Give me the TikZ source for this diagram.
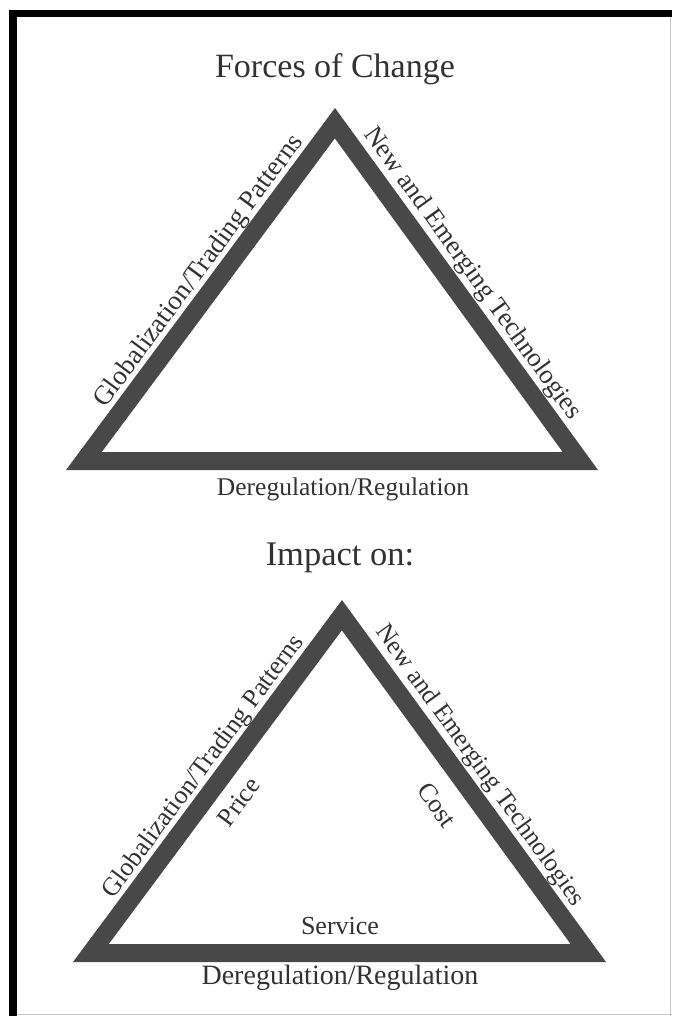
\documentclass[tikz,border=0pt]{standalone}
\usepackage{fontspec}
\setmainfont{Liberation Serif}
\usetikzlibrary{calc}
\definecolor{bandgray}{RGB}{72,72,72}
\definecolor{ink}{RGB}{50,50,50}
\begin{document}
\begin{tikzpicture}[x=1pt,y=-1pt,
  lbl/.style={text=ink, inner sep=0pt, anchor=base},
  bandstyle/.style={draw=bandgray, line width=36pt, line join=miter, miter limit=20},
  fs/.style={font=\fontsize{#1}{#1}\selectfont}]
\useasboundingbox (0,0) rectangle (672,1016);
\fill[white] (0,0) rectangle (672,1016);
% frame
\fill[black] (9,10) rectangle (672,17);
\fill[black] (9,10) rectangle (17,1016);
\draw[black!22, line width=0.8pt] (670.5,17) -- (670.5,1016);
\draw[black!22, line width=0.8pt] (17,1014.5) -- (672,1014.5);
% ---------- top triangle ----------
\coordinate (tA) at (335,108);
\coordinate (tB) at (66,470);
\coordinate (tC) at (598,470);
\begin{scope}
  \clip (tA) -- (tB) -- (tC) -- cycle;
  \draw[bandstyle] (tA) -- (tB) -- (tC) -- cycle;
\end{scope}
\node[lbl, fs=34] (title1) at (335,78) {Forces of Change};
\coordinate (tL) at ($(tB)!0.53!(tA)$);
\coordinate (tR) at ($(tA)!0.48!(tC)$);
\node[lbl, fs=27, rotate=53.4] (glob1) at ($(tL)!5pt!90:(tA)$) {Globalization/Trading Patterns};
\node[lbl, fs=26.5, rotate=-54.2] (tech1) at ($(tR)!7pt!90:(tC)$) {New and Emerging Technologies};
\node[lbl, fs=25.5] (dereg1) at (343,495) {Deregulation/Regulation};
% ---------- bottom triangle ----------
\node[lbl, fs=34.5] (title2) at (340,565) {Impact on:};
\coordinate (bA) at (342,600);
\coordinate (bB) at (73,962);
\coordinate (bC) at (606,962);
\begin{scope}
  \clip (bA) -- (bB) -- (bC) -- cycle;
  \draw[bandstyle] (bA) -- (bB) -- (bC) -- cycle;
\end{scope}
\coordinate (bL) at ($(bB)!0.52!(bA)$);
\coordinate (bR) at ($(bA)!0.48!(bC)$);
\node[lbl, fs=26, rotate=53.4] (glob2) at ($(bL)!5pt!90:(bA)$) {Globalization/Trading Patterns};
\node[lbl, fs=25.5, rotate=-54.2] (tech2) at ($(bR)!7pt!90:(bC)$) {New and Emerging Technologies};
\node[text=ink, fs=26, inner sep=0pt, rotate=53.4] (price) at (239,802) {Price};
\node[text=ink, fs=26, inner sep=0pt, rotate=-54.2] (cost) at (437,805) {Cost};
\node[lbl, fs=26] (service) at (340,934) {Service};
\node[lbl, fs=28] (dereg2) at (340,984) {Deregulation/Regulation};
\end{tikzpicture}
\end{document}
